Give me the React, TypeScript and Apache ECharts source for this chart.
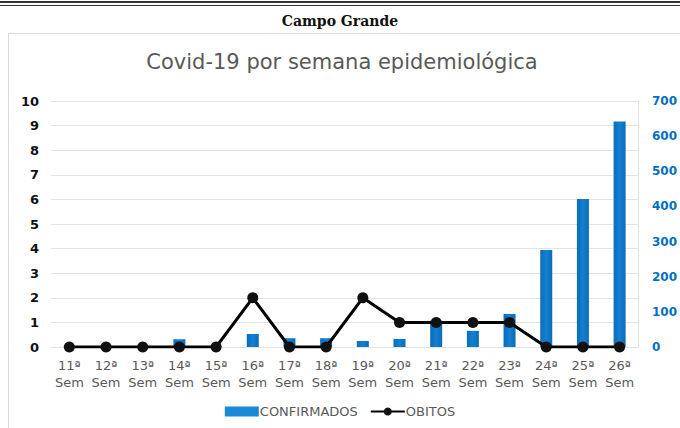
import React, { useEffect, useRef } from "react";
import * as echarts from "echarts";

const categories = ["11ª\nSem", "12ª\nSem", "13ª\nSem", "14ª\nSem", "15ª\nSem", "16ª\nSem", "17ª\nSem", "18ª\nSem", "19ª\nSem", "20ª\nSem", "21ª\nSem", "22ª\nSem", "23ª\nSem", "24ª\nSem", "25ª\nSem", "26ª\nSem"];
const confirmados = [1, 3, 3, 22, 2, 37, 25, 25, 17, 23, 75, 46, 94, 276, 421, 642];
const obitos = [0, 0, 0, 0, 0, 2, 0, 0, 2, 1, 1, 1, 1, 0, 0, 0];
const leftTicks = { min: 0, max: 10, interval: 1 };
const rightTicks = { min: 0, max: 700, interval: 100 };

export default function App() {
  const ref = useRef<HTMLDivElement>(null);
  useEffect(() => {
    const chart = echarts.init(ref.current!, undefined, { renderer: "svg" });
    const font = "DejaVu Sans";
    chart.setOption({
      animation: false,
      backgroundColor: "#ffffff",
      textStyle: { fontFamily: font },
      graphic: [
        { type: "rect", shape: { x: 0, y: 1, width: 680, height: 2 }, style: { fill: "#333" } },
        { type: "rect", shape: { x: 0, y: 5, width: 680, height: 1 }, style: { fill: "#333" } },
        { type: "rect", shape: { x: 8.5, y: 33.5, width: 680, height: 400 }, style: { fill: "none", stroke: "#d9d9d9", lineWidth: 1 } },
        {
          type: "text", x: 340, y: 21,
          style: { text: "Campo Grande", fontFamily: "DejaVu Serif", fontWeight: "bold", fontSize: 14, fill: "#111", align: "center", verticalAlign: "middle" },
        },
      ],
      title: {
        text: "Covid-19 por semana epidemiológica",
        left: 337, top: 46, textAlign: "center",
        textStyle: { fontFamily: font, fontSize: 21, fontWeight: "normal", color: "#595959" },
      },
      grid: { left: 51, right: 42, top: 101, bottom: 81, containLabel: false },
      legend: {
        bottom: 5, left: "center",
        itemGap: 12,
        textStyle: { fontFamily: font, fontSize: 13, color: "#595959", padding: [0, 0, 0, -4] },
        data: [
          { name: "CONFIRMADOS", icon: "rect", itemStyle: { color: "#1a8ad6" } },
          { name: "OBITOS" },
        ],
        itemWidth: 34, itemHeight: 10,
      },
      xAxis: {
        type: "category",
        data: categories,
        axisLine: { show: false },
        axisTick: { show: false },
        axisLabel: { color: "#595959", fontSize: 13, lineHeight: 17, margin: 10, interval: 0 },
      },
      yAxis: [
        {
          type: "value", ...leftTicks, position: "left",
          axisLine: { show: false }, axisTick: { show: false },
          splitLine: { lineStyle: { color: "#e3e3e3" } },
          axisLabel: { color: "#111", fontWeight: "bold", fontSize: 13, margin: 12 },
        },
        {
          type: "value", ...rightTicks, position: "right",
          axisLine: { show: true, lineStyle: { color: "#e3e3e3" } }, axisTick: { show: false },
          splitLine: { show: false },
          axisLabel: { color: "#0070c0", fontWeight: "bold", fontSize: 12, margin: 14 },
        },
      ],
      series: [
        {
          name: "CONFIRMADOS", type: "bar", yAxisIndex: 1, data: confirmados, barWidth: 12,
          itemStyle: {
            color: new echarts.graphic.LinearGradient(0, 0, 1, 0, [
              { offset: 0, color: "#0a6cb8" },
              { offset: 0.5, color: "#1480d0" },
              { offset: 1, color: "#0a6cb8" },
            ]),
          },
        },
        {
          name: "OBITOS", type: "line", yAxisIndex: 0, data: obitos,
          symbol: "circle", symbolSize: 11,
          lineStyle: { color: "#000", width: 3 },
          itemStyle: { color: "#111" },
        },
      ],
    });
    return () => chart.dispose();
  }, []);
  return <div ref={ref} style={{ position: "absolute", left: 0, top: 0, width: 680, height: 428 }} />;
}
